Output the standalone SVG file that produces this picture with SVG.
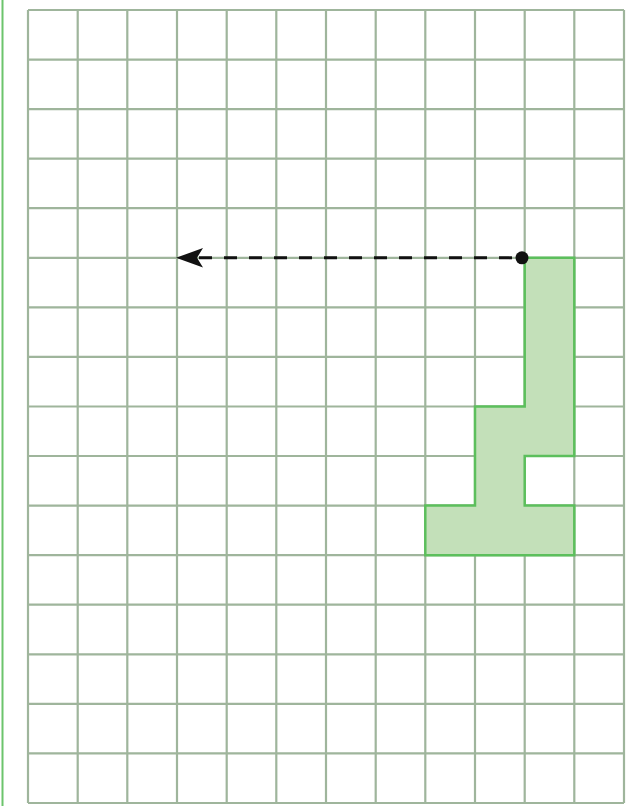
<svg xmlns="http://www.w3.org/2000/svg" width="631" height="806" viewBox="0 0 631 806">
<style>
.grid{stroke:#9fb59c;stroke-width:2.2;fill:none}
.shape{fill:#c3e0b9;stroke:#5cbf5c;stroke-width:2.5}
.arrow{stroke:#111;stroke-width:3;stroke-dasharray:13 12;fill:none}
</style>
<rect width="631" height="806" fill="#fff"/>
<line x1="2.5" y1="0" x2="2.5" y2="806" stroke="#6cc46c" stroke-width="2"/>
<g id="grid" class="grid">
<path d="M28,10V803M77.7,10V803M127.3,10V803M177,10V803M226.7,10V803M276.3,10V803M326,10V803M375.7,10V803M425.3,10V803M475,10V803M524.7,10V803M574.3,10V803M624,10V803"/>
<path d="M28,10H624M28,59.6H624M28,109.1H624M28,158.7H624M28,208.2H624M28,257.8H624M28,307.4H624M28,356.9H624M28,406.5H624M28,456H624M28,505.6H624M28,555.2H624M28,604.7H624M28,654.3H624M28,703.8H624M28,753.4H624M28,803H624"/>
</g>
<g id="shape">
<path class="shape" d="M524.7,257.8H574.3V456H524.7V505.6H574.3V555.2H425.3V505.6H475V406.5H524.7Z"/>
</g>
<g id="connectors">
<path class="arrow" d="M512,257.8H196"/>
<path d="M176,257.8L203,248L197,257.8L203,267.6Z" fill="#111"/>
<circle cx="522" cy="257.8" r="6.5" fill="#111"/>
</g>
</svg>
